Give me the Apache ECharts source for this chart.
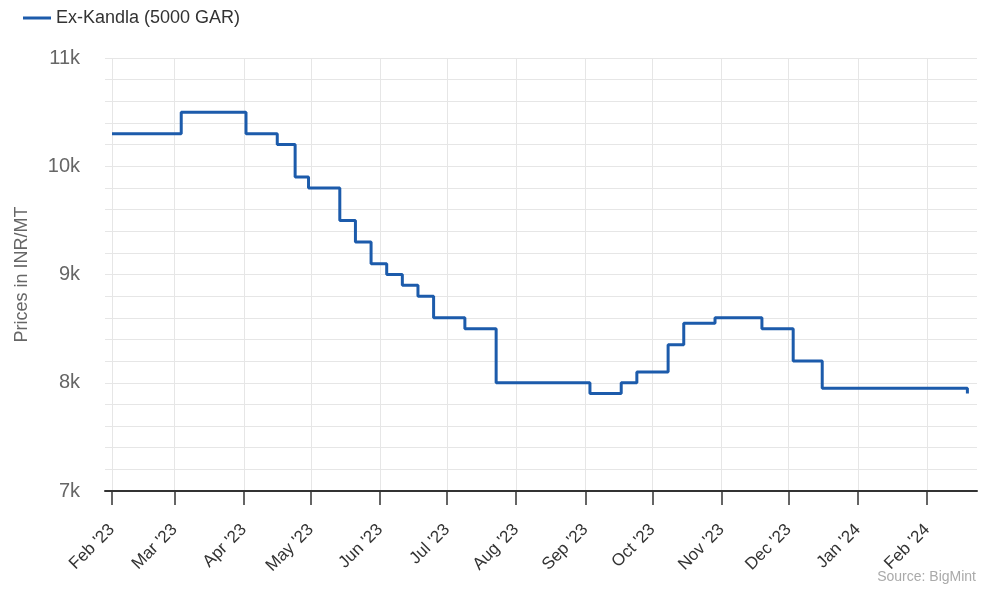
<!DOCTYPE html>
<html>
<head>
<meta charset="utf-8">
<script src="https://cdn.jsdelivr.net/npm/echarts@6/dist/echarts.min.js"></script>
<style>
  html, body { margin: 0; padding: 0; background: #fff; }
  #chart { width: 1002px; height: 595px; }
</style>
</head>
<body>
<div id="chart"></div>
<script>
// price change dates (step series) and the price from that day on
const changeDates = [
  '2023-02-01', '2023-03-04', '2023-04-02', '2023-04-16', '2023-04-24',
  '2023-04-30', '2023-05-14', '2023-05-21', '2023-05-28', '2023-06-04',
  '2023-06-11', '2023-06-18', '2023-06-25', '2023-07-09', '2023-07-23',
  '2023-09-03', '2023-09-17', '2023-09-24', '2023-10-08', '2023-10-15',
  '2023-10-29', '2023-11-19', '2023-12-03', '2023-12-16', '2024-02-19'
];
const prices = [
  10300, 10500, 10300, 10200, 9900,
  9800, 9500, 9300, 9100, 9000,
  8900, 8800, 8600, 8500, 8000,
  7900, 8000, 8100, 8350, 8550,
  8600, 8500, 8200, 7950, 7900
];
const monthTicks = [
  '2023-02-01', '2023-03-01', '2023-04-01', '2023-05-01', '2023-06-01',
  '2023-07-01', '2023-08-01', '2023-09-01', '2023-10-01', '2023-11-01',
  '2023-12-01', '2024-01-01', '2024-02-01'
];
const monthNames = ['Jan', 'Feb', 'Mar', 'Apr', 'May', 'Jun', 'Jul', 'Aug', 'Sep', 'Oct', 'Nov', 'Dec'];
const seriesName = 'Ex-Kandla (5000 GAR)';

function toTime(s) {
  let p = s.split('-');
  return Date.UTC(+p[0], +p[1] - 1, +p[2]);
}
const DAY = 24 * 3600 * 1000;
const font = 'Liberation Sans, Arial, sans-serif';
let myChart = echarts.init(document.getElementById('chart'));

let option = {
  animation: false,
  textStyle: { fontFamily: font },
  legend: {
    left: 18,
    top: 4,
    icon: 'rect',
    itemWidth: 28,
    itemHeight: 3,
    itemGap: 10,
    textStyle: { fontSize: 18, color: '#333', fontFamily: font },
    data: [seriesName]
  },
  grid: { left: 105, right: 25, top: 58, bottom: 104 },
  xAxis: {
    type: 'value',
    min: toTime('2023-02-01') - 3.13 * DAY,
    max: toTime('2024-02-01') + 22.3 * DAY,
    axisLine: { lineStyle: { color: '#333', width: 2 } },
    axisTick: {
      show: true,
      length: 14,
      customValues: monthTicks.map(toTime),
      lineStyle: { color: '#333', width: 1.5 }
    },
    axisLabel: {
      customValues: monthTicks.map(toTime),
      rotate: 45,
      margin: 36,
      fontSize: 17,
      color: '#333',
      fontFamily: font,
      formatter: function (v) {
        let d = new Date(v);
        return monthNames[d.getUTCMonth()] + " '" + String(d.getUTCFullYear()).slice(2);
      }
    },
    splitLine: { show: true, lineStyle: { color: '#e6e6e6', width: 1 } }
  },
  yAxis: {
    type: 'value',
    min: 7000,
    max: 11000,
    interval: 200,
    name: 'Prices in INR/MT',
    nameLocation: 'middle',
    nameGap: 74,
    nameTextStyle: { fontSize: 18, color: '#666', fontFamily: font },
    axisLine: { show: false },
    axisTick: { show: false },
    axisLabel: {
      margin: 25,
      fontSize: 20,
      color: '#666',
      fontFamily: font,
      formatter: function (v) {
        return v % 1000 === 0 ? (v / 1000) + 'k' : '';
      }
    },
    splitLine: { lineStyle: { color: '#e6e6e6', width: 1 } }
  },
  graphic: [{
    type: 'text',
    right: 26,
    top: 570,
    style: { text: 'Source: BigMint', fontSize: 14, fill: '#aaa', font: '14px ' + font }
  }],
  series: [{
    name: seriesName,
    type: 'line',
    step: 'end',
    showSymbol: false,
    symbol: 'none',
    color: '#1c5bab',
    lineStyle: { width: 3, color: '#1c5bab' },
    data: changeDates.map((d, i) => [toTime(d), prices[i]])
  }]
};
myChart.setOption(option);
</script>
</body>
</html>
